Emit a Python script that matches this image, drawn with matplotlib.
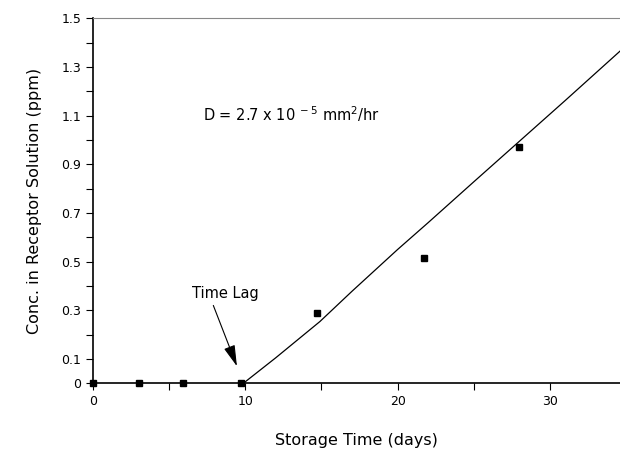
import numpy as np
import matplotlib
matplotlib.use("Agg")
import matplotlib.pyplot as plt

# measured points (days, ppm)
days = [0, 3, 5.9, 9.7, 14.7, 21.7, 28.0]
conc = [0, 0, 0, 0, 0.29, 0.515, 0.973]

# model curve
fit_days = [9.87, 12, 14.9, 17, 20, 22, 25, 28, 31, 34.6]
fit_conc = [0, 0.105, 0.254, 0.378, 0.55, 0.66, 0.828, 0.995, 1.162, 1.365]

yticks = [0, 0.1, 0.3, 0.5, 0.7, 0.9, 1.1, 1.3, 1.5]
ylabels = ["0", "0.1", "0.3", "0.5", "0.7", "0.9", "1.1", "1.3", "1.5"]
yminor = [0.2, 0.4, 0.6, 0.8, 1.0, 1.2, 1.4]

plt.rcParams['font.family'] = ['DejaVu Sans']

fig = plt.figure(figsize=(6.2, 4.54), dpi=100)
ax = fig.add_axes([0.15, 0.1557, 0.85, 0.804])

ax.plot(fit_days, fit_conc, color="black", lw=0.9, clip_on=False)
ax.plot(days, conc, "s", color="black", markersize=4.5, clip_on=False, zorder=5)

ax.set_xlim(0, 34.6)
ax.set_ylim(0, 1.5)
ax.set_xticks([0, 10, 20, 30])
ax.set_xticks([5, 15, 25], minor=True)
ax.set_yticks(yticks)
ax.set_yticklabels(ylabels)
ax.set_yticks(yminor, minor=True)
ax.tick_params(which="both", direction="out", length=5, width=0.8, labelsize=9)

ax.spines["right"].set_visible(False)
ax.spines["top"].set_color("#888888")
ax.spines["left"].set_linewidth(1.2)
ax.spines["bottom"].set_linewidth(1.2)

ax.set_xlabel("Storage Time (days)", fontsize=11.5, labelpad=18)
ax.set_ylabel("Conc. in Receptor Solution (ppm)", fontsize=11.5, labelpad=14)

ax.text(7.2, 1.105, r"D = 2.7 x 10$^{\ -5}$ mm$^2$/hr", fontsize=10.5,
        va="center", ha="left")

ax.text(8.7, 0.37, "Time Lag", fontsize=10.5, ha="center", va="center")
ax.annotate("", xy=(9.45, 0.07), xytext=(7.9, 0.32),
            arrowprops=dict(arrowstyle="-|>,head_length=1.3,head_width=0.35",
                            color="black", lw=0.8, shrinkA=0, shrinkB=0))

fig.savefig("out.png", dpi=100)
